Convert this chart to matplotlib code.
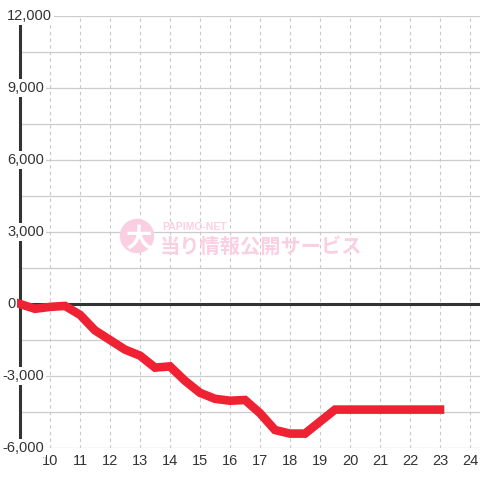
import matplotlib
matplotlib.use("Agg")
import matplotlib.pyplot as plt
import matplotlib.transforms as mtransforms
from matplotlib.patches import Circle

plt.rcParams['font.family'] = ['Liberation Sans', 'DejaVu Sans']

# data (hour -> cumulative balance)
hours = [9, 9.5, 10, 10.5, 11, 11.5, 12, 12.5, 13, 13.5, 14, 14.5, 15, 15.5,
         16, 16.5, 17, 17.5, 18, 18.5, 19, 19.5, 20, 20.5, 21, 21.5, 22, 22.5, 23]
values = [0, -200, -120, -80, -450, -1100, -1500, -1900, -2150, -2650, -2600,
          -3200, -3700, -3950, -4030, -4000, -4550, -5250, -5400, -5400, -4900,
          -4400, -4400, -4400, -4400, -4400, -4400, -4400, -4400]
y_ticks = [12000, 9000, 6000, 3000, 0, -3000, -6000]
y_labels = ['12,000', '9,000', '6,000', '3,000', '0', '-3,000', '-6,000']
x_ticks = list(range(10, 25))

fig = plt.figure(figsize=(4.8, 4.8), dpi=100)
fig.patch.set_facecolor('white')
ax = fig.add_axes([20/480, 32/480, 460/480, 432/480])
ax.set_xlim(9, 9 + 460/30)
ax.set_ylim(-6000, 12000)

# grid
for y in range(-6000, 12001, 1500):
    ax.axhline(y, color='#cccccc', lw=0.9, zorder=1)
for x in x_ticks:
    ax.axvline(x, color='#c8c8c8', lw=0.8, ls=(0, (3, 3)), zorder=1)

# zero line
ax.axhline(0, color='#333333', lw=2.2, zorder=2)

for s in ['top', 'right', 'bottom']:
    ax.spines[s].set_visible(False)
ax.spines['left'].set_color('#333333')
ax.spines['left'].set_linewidth(2.2)
ax.spines['left'].set_zorder(2)

ax.set_xticks([])
ax.set_yticks([])

# watermark
wm = '#fbcfe2'
ax.add_patch(Circle((137/480, 1 - 236/480), 16.5/480, transform=fig.transFigure,
                    color=wm, zorder=1.5, clip_on=False))
fig.text(139/480, 1 - 239/480, '大', color='white', fontsize=19, fontweight='bold',
         family=['Noto Sans CJK JP'], ha='center', va='center', zorder=3)
fig.text(162/480, 1 - 226.5/480, 'PAPIMO-NET', color=wm, fontsize=7.5,
         fontweight='bold', ha='left', va='center')
fig.text(160/480, 1 - 246/480, '当り情報公開サービス', color=wm, fontsize=14.6,
         fontweight='bold', family=['Noto Sans CJK JP'], ha='left', va='center')

# line
ax.plot(hours, values, color='#ee2233', lw=6.2, solid_capstyle='projecting',
        solid_joinstyle='miter', zorder=4, clip_on=False)

# y labels
trans = mtransforms.blended_transform_factory(fig.transFigure, ax.transData)
for v, lab in zip(y_ticks, y_labels):
    xpos = 2.3 if v < 0 else 7
    ax.text(xpos/480, v, lab, transform=trans, ha='left', va='center',
            fontsize=10.5, color='#333333', zorder=5, clip_on=False,
            bbox=dict(boxstyle='square,pad=0.15', fc='white', ec='none'))

# x labels
for x in x_ticks:
    ax.text(x, 1 - 461/480, str(x), transform=mtransforms.blended_transform_factory(
        ax.transData, fig.transFigure), ha='center', va='center',
        fontsize=10.5, color='#333333', clip_on=False)

fig.savefig('out.png', dpi=100)
